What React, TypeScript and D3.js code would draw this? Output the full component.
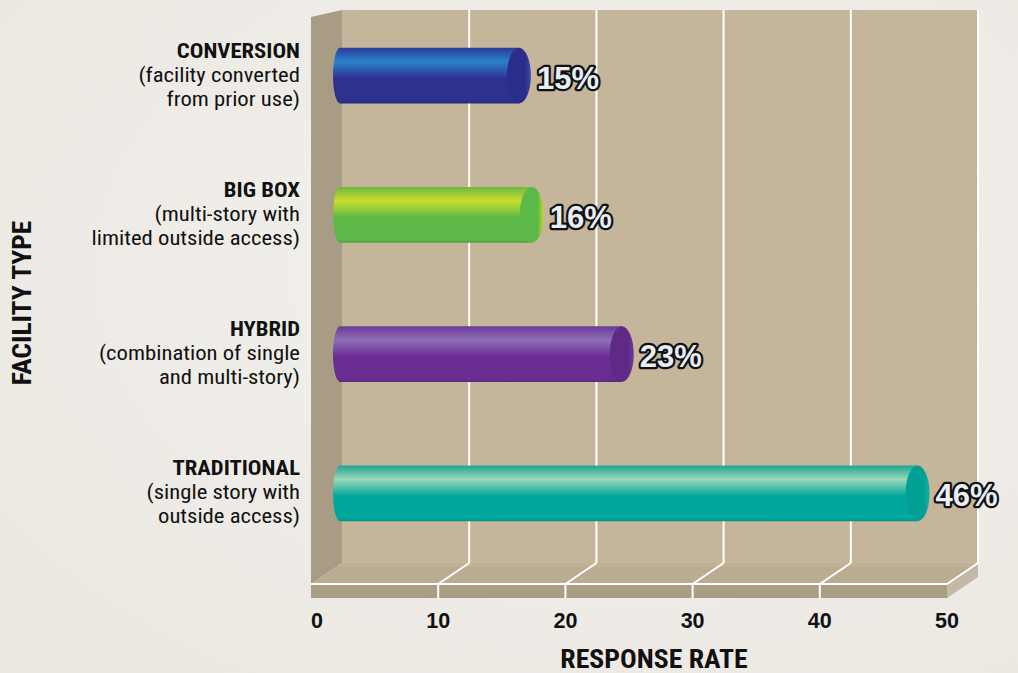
import React from "react";
import * as d3 from "d3";

const categories = ["CONVERSION", "BIG BOX", "HYBRID", "TRADITIONAL"];
const subtitles = [
  ["(facility converted", "from prior use)"],
  ["(multi-story with", "limited outside access)"],
  ["(combination of single", "and multi-story)"],
  ["(single story with", "outside access)"],
];
const values = [15, 16, 23, 46];
const ticks = [0, 10, 20, 30, 40, 50];
const barColors = [
  { top: "#2b3a98", hi: "#2a84ca", base: "#2d3190", cap: "#2a2e8a", capEdge: "#3a4aa8" },
  { top: "#72b743", hi: "#c8dc2c", base: "#5cb947", cap: "#5cb947", capEdge: "#c6da2a" },
  { top: "#6a3a98", hi: "#8e70b6", base: "#692c90", cap: "#5f2a86", capEdge: "#6e3a9a" },
  { top: "#1fa596", hi: "#9ad8b6", base: "#00a79c", cap: "#00a095", capEdge: "#16ae9f" },
];

const W = 1018, H = 673;
const FRONT_Y = 584, BACK_Y = 563, SLAB_B = 598, TOP_Y = 10;

export default function App() {
  const xFront = d3.scaleLinear().domain([0, 50]).range([311, 947]);
  const xBack = d3.scaleLinear().domain([0, 50]).range([342, 978]);
  const xBar = d3.scaleLinear().domain([0, 50]).range([326, 969]);
  const y = d3.scaleBand().domain(categories).range([6, 563]).paddingInner(0.6).paddingOuter(0.3);
  const condensed = "'Roboto Condensed', 'Liberation Sans Narrow', 'Arial Narrow', Roboto, sans-serif";
  const bold = "'Liberation Sans', Arial, sans-serif";

  return (
    <svg width={W} height={H} style={{ position: "absolute", left: 0, top: 0 }}>
      <defs>
        <radialGradient id="bgGrad" cx="0.6" cy="0.4" r="0.8">
          <stop offset="0" stopColor="#f3f1ec" />
          <stop offset="1" stopColor="#ebe8e2" />
        </radialGradient>
        {barColors.map((c, i) => (
          <linearGradient key={i} id={`bar${i}`} x1="0" y1="0" x2="0" y2="1">
            <stop offset="0" stopColor={c.top} />
            <stop offset="0.25" stopColor={c.hi} />
            <stop offset="0.55" stopColor={c.base} />
            <stop offset="0.95" stopColor={c.base} />
            <stop offset="1" stopColor={d3.color(c.base)!.darker(0.4).toString()} />
          </linearGradient>
        ))}
        {barColors.map((c, i) => (
          <linearGradient key={i} id={`cap${i}`} x1="0" y1="0" x2="1" y2="0">
            <stop offset="0" stopColor={c.cap} />
            <stop offset="0.75" stopColor={c.cap} />
            <stop offset="1" stopColor={c.capEdge} />
          </linearGradient>
        ))}
      </defs>
      <rect width={W} height={H} fill="url(#bgGrad)" />

      {/* back wall */}
      <rect x={xBack(0)} y={TOP_Y} width={xBack(50) - xBack(0)} height={BACK_Y - TOP_Y} fill="#c4b59b" />
      {/* left wall */}
      <polygon
        points={`${xFront(0)},17 ${xBack(0)},${TOP_Y} ${xBack(0)},${BACK_Y} ${xFront(0)},${FRONT_Y}`}
        fill="#a99c85"
      />
      {/* floor */}
      <polygon
        points={`${xFront(0)},${FRONT_Y} ${xBack(0)},${BACK_Y} ${xBack(50)},${BACK_Y} ${xFront(50)},${FRONT_Y}`}
        fill="#b9ac91"
      />
      <polygon
        points={`${xBack(0)},${BACK_Y} ${xBack(50)},${BACK_Y} ${xBack(50) - 5},${BACK_Y + 4} ${xBack(0) - 5},${BACK_Y + 4}`}
        fill="#bfb296"
      />
      {/* front slab */}
      <rect x={xFront(0)} y={FRONT_Y} width={xFront(50) - xFront(0)} height={SLAB_B - FRONT_Y} fill="#a99d86" />
      <polygon
        points={`${xFront(50)},${FRONT_Y} ${xBack(50)},${BACK_Y} ${xBack(50)},${BACK_Y + 14} ${xFront(50)},${SLAB_B}`}
        fill="#c3b9a6"
      />

      {/* gridlines */}
      {ticks.slice(1).map((t) => (
        <g key={t} stroke="#ffffff" strokeWidth={2} fill="none">
          <line x1={xBack(t)} y1={TOP_Y} x2={xBack(t)} y2={BACK_Y} />
          <line x1={xBack(t)} y1={BACK_Y} x2={xFront(t)} y2={FRONT_Y} />
          {t < 50 && <line x1={xFront(t)} y1={FRONT_Y} x2={xFront(t)} y2={SLAB_B} />}
        </g>
      ))}
      <line x1={xFront(0)} y1={FRONT_Y} x2={xFront(50)} y2={FRONT_Y} stroke="#ffffff" strokeWidth={2} />

      {/* bars */}
      {categories.map((c, i) => {
        const top = y(c)!;
        const h = y.bandwidth();
        const cy = top + h / 2;
        const xl = 340;
        const xe = xBar(values[i]);
        const rx = 12, lrx = 7;
        const path = `M${xl},${top} L${xe},${top} L${xe},${top + h} L${xl},${top + h} A${lrx},${h / 2} 0 0 1 ${xl},${top} Z`;
        return (
          <g key={c}>
            <path d={path} fill={`url(#bar${i})`} />
            <ellipse cx={xe} cy={cy} rx={rx} ry={h / 2} fill={`url(#cap${i})`} />
            <text
              x={xe + rx + 6}
              y={cy + 13}
              fontFamily={bold}
              fontWeight="bold"
              fontSize={31}
              fill="#e8eef6"
              stroke="#111111"
              strokeWidth={4.5}
              strokeLinejoin="round"
              paintOrder="stroke"
            >
              {values[i]}%
            </text>
          </g>
        );
      })}

      {/* category labels */}
      {categories.map((c, i) => {
        const cy = y(c)! + y.bandwidth() / 2;
        return (
          <g key={c} transform="translate(300,0) scale(1.08,1)">
            <text x={0} textAnchor="end" fontFamily={condensed} fontSize={21} fill="#111111">
              <tspan x={0} y={cy - 18} fontWeight="bold">{c}</tspan>
              <tspan x={0} y={cy + 6}>{subtitles[i][0]}</tspan>
              <tspan x={0} y={cy + 30}>{subtitles[i][1]}</tspan>
            </text>
          </g>
        );
      })}

      {/* tick labels */}
      {ticks.map((t) => (
        <text
          key={t}
          x={t === 0 ? xFront(t) + 6 : xFront(t)}
          y={628}
          textAnchor="middle"
          fontFamily={bold}
          fontWeight="bold"
          fontSize={21.5}
          fill="#111111"
        >
          {t}
        </text>
      ))}

      <g transform="translate(654,668) scale(1.11,1)">
        <text x={0} y={0} textAnchor="middle" fontFamily={condensed} fontWeight="bold" fontSize={25} fill="#111111">
          RESPONSE RATE
        </text>
      </g>
      <g transform="translate(31,303) rotate(-90) scale(1.1,1)">
        <text x={0} y={0} textAnchor="middle" fontFamily={condensed} fontWeight="bold" fontSize={25} fill="#111111">
          FACILITY TYPE
        </text>
      </g>
    </svg>
  );
}
